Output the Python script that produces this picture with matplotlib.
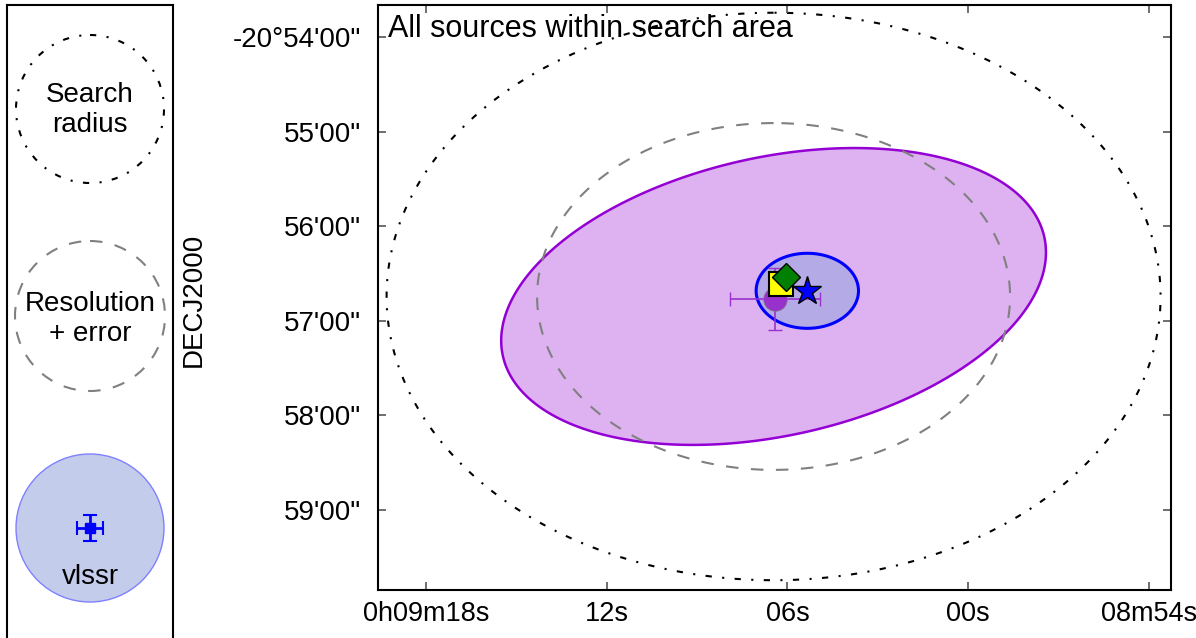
import numpy as np
import matplotlib.pyplot as plt
from matplotlib.patches import Circle, Polygon

plt.rcParams['font.family'] = ['Liberation Sans', 'DejaVu Sans']

# RA in seconds of time (0h09m06s -> 546), Dec in arcsec
dec_ref = -(20 * 3600 + 56 * 60 + 44.6)
ra_ref = 546.46

# search area / resolution circles (radius in arcsec)
search_radius = 180.0
resolution_radius = 110.0

# purple source ellipse: semi-major, semi-minor (arcsec), position angle (deg)
purple_ell = (132.3, 86.1, 112.3)
purple_pt = (546.41, -(20 * 3600 + 56 * 60 + 46.2))
purple_err = (1.49, 19.7)   # RA err (s), Dec err (arcsec)

# vlssr source
vlssr_pt = (545.34, -(20 * 3600 + 56 * 60 + 41.0))
vlssr_radius = 23.8

square_pt = (546.21, -(20 * 3600 + 56 * 60 + 36.7))
diamond_pt = (546.05, -(20 * 3600 + 56 * 60 + 32.2))

xticks = [558, 552, 546, 540, 534]
xticklabels = ['0h09m18s', '12s', '06s', '00s', '08m54s']
yticks = [-(20 * 3600 + m * 60) for m in range(54, 60)]
yticklabels = ['-20°54\'00"', '55\'00"', '56\'00"', '57\'00"', '58\'00"', '59\'00"']

cosdec = np.cos(np.deg2rad(dec_ref / 3600.0))


def sky_ellipse(ra0, dec0, a, b, pa, n=300):
    t = np.linspace(0, 2 * np.pi, n)
    pa = np.deg2rad(pa)
    east = a * np.cos(t) * np.sin(pa) + b * np.sin(t) * np.cos(pa)
    north = a * np.cos(t) * np.cos(pa) - b * np.sin(t) * np.sin(pa)
    return np.column_stack([ra0 + east / (15 * cosdec), dec0 + north])


fig = plt.figure(figsize=(11.96, 6.38), dpi=100)
ax = fig.add_axes([378 / 1196, 48 / 638, 793 / 1196, 585 / 638])

ax.add_patch(Polygon(sky_ellipse(ra_ref, dec_ref, *purple_ell), closed=True,
                     facecolor='darkviolet', alpha=0.3, edgecolor='none'))
ax.add_patch(Polygon(sky_ellipse(ra_ref, dec_ref, *purple_ell), closed=True,
                     facecolor='none', edgecolor='darkviolet', lw=1.8))
ax.add_patch(Polygon(sky_ellipse(*vlssr_pt, vlssr_radius, vlssr_radius, 0), closed=True,
                     facecolor='#b4abe6', edgecolor='blue', lw=2.2))
ax.add_patch(Polygon(sky_ellipse(ra_ref, dec_ref, search_radius, search_radius, 0),
                     closed=True, facecolor='none', edgecolor='black', lw=1.5,
                     linestyle=(0, (3, 5, 1, 5))))
ax.add_patch(Polygon(sky_ellipse(ra_ref, dec_ref, resolution_radius, resolution_radius, 0),
                     closed=True, facecolor='none', edgecolor='gray', lw=1.5,
                     linestyle=(0, (6, 6))))

ax.errorbar(purple_pt[0], purple_pt[1], xerr=purple_err[0], yerr=purple_err[1],
            fmt='none', ecolor='darkorchid', elinewidth=1.2, capsize=5)
ax.plot(*purple_pt, 'o', ms=17, mfc='darkorchid', mec='gray', mew=0.5)
ax.plot(*square_pt, 's', ms=17, mfc='yellow', mec='black', mew=1.5)
ax.plot(*diamond_pt, 'D', ms=14, mfc='green', mec='black', mew=1)
ax.plot(*vlssr_pt, '*', ms=21, mfc='blue', mec='black', mew=1)

ax.set_xlim(559.594, 533.265)
ax.set_ylim(-75590.8, -75219.7)
ax.set_xticks(xticks)
ax.set_xticklabels(xticklabels)
ax.set_yticks(yticks)
ax.set_yticklabels(yticklabels)
ax.tick_params(direction='in', length=6, width=1.2, color='#555555',
               top=True, right=True, labelsize=20)
ax.tick_params(axis='x', pad=8, labelsize=19.5)
ax.tick_params(axis='y', pad=12)
for sp in ax.spines.values():
    sp.set_linewidth(1.5)
fig.text(194 / 1196, (638 - 300) / 638, 'DECJ2000', rotation=90, fontsize=20,
         ha='center', va='center')
ax.text(0.013, 0.985, 'All sources within search area', transform=ax.transAxes,
        fontsize=22, va='top', ha='left')

# legend panel
lg = fig.add_axes([7 / 1196, -64 / 638, 166 / 1196, 697 / 638])
lg.set_xlim(7, 173)
lg.set_ylim(702, 5)
lg.set_xticks([])
lg.set_yticks([])
for sp in lg.spines.values():
    sp.set_linewidth(1.5)
lg.add_patch(Circle((90, 109), 74, facecolor='none', edgecolor='black', lw=1.5,
                    linestyle=(0, (3, 5, 1, 5))))
lg.text(90, 110, 'Search\nradius', ha='center', va='center', fontsize=20, linespacing=1.2)
lg.add_patch(Circle((90, 316), 75, facecolor='none', edgecolor='gray', lw=1.5,
                    linestyle=(0, (6, 6))))
lg.text(90, 319, 'Resolution\n+ error', ha='center', va='center', fontsize=20, linespacing=1.2)
lg.add_patch(Circle((90, 528), 74, facecolor='#c3cdeb', edgecolor='#8080ff', lw=1))
lg.errorbar(90, 528, xerr=13, yerr=13, fmt='s', ms=7, color='blue', capsize=5,
            elinewidth=2, capthick=1.5)
lg.text(90, 577, 'vlssr', ha='center', va='center', fontsize=20)

fig.savefig('out.png', dpi=100)
